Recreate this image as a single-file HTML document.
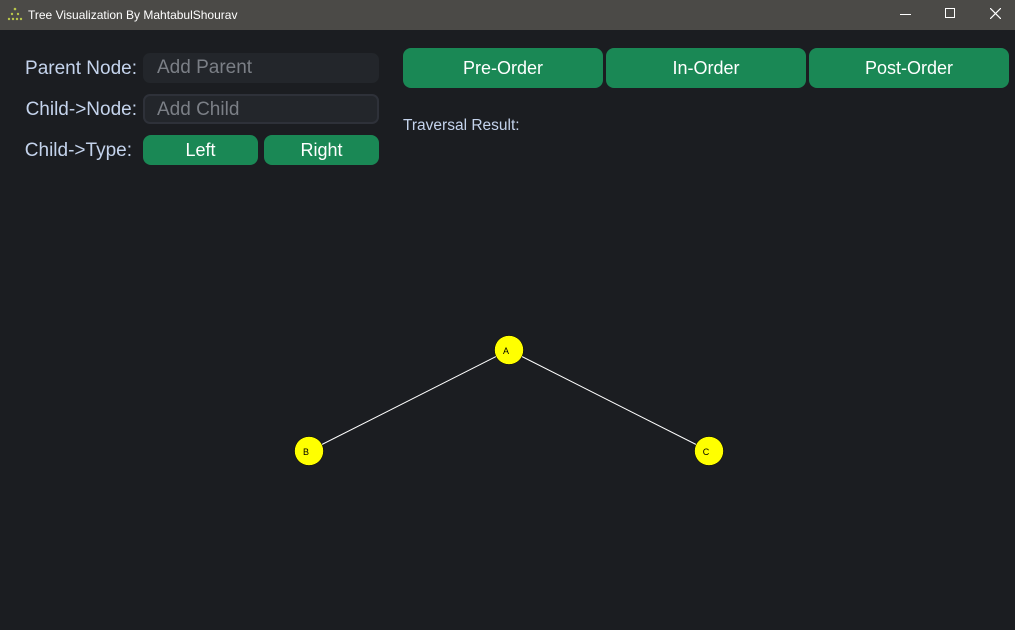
<!DOCTYPE html>
<html><head><meta charset="utf-8"><style>
*{margin:0;padding:0;box-sizing:border-box}
body{width:1015px;height:630px;background:#1b1d21;font-family:"Liberation Sans",sans-serif;position:relative;overflow:hidden}
.t{position:absolute;left:0;top:0;width:1015px;height:30px;background:#4b4a47;color:#fff;font-size:12px}
.a{position:absolute}
.lbl{position:absolute;color:#c4d3ec;font-size:19px;text-align:right;width:120px;white-space:nowrap}
.inp{position:absolute;left:143px;width:236px;height:30px;border-radius:7px;background:#23262b;color:#7b7f86;font-size:19px;padding-left:14px;line-height:30px}
.btn{position:absolute;background:#1a8855;color:#fff;border-radius:8px;text-align:center;font-size:18px}
</style></head><body>
<div class="t">
<svg class="a" style="left:7px;top:7px" width="16" height="14"><g fill="#b9c64a"><circle cx="8" cy="2" r="1.3"/><circle cx="5" cy="7" r="1.2"/><circle cx="11" cy="7" r="1.2"/><circle cx="2" cy="12" r="1.2"/><circle cx="6" cy="12" r="1.2"/><circle cx="10" cy="12" r="1.2"/><circle cx="14" cy="12" r="1.2"/></g></svg>
<div class="a" style="left:28px;top:8px">Tree Visualization By MahtabulShourav</div>
<div class="a" style="left:900px;top:14px;width:11px;height:1px;background:#fff"></div>
<div class="a" style="left:945px;top:8px;width:10px;height:10px;border:1px solid #fff"></div>
<svg class="a" style="left:990px;top:8px" width="11" height="11"><path d="M0 0L11 11M11 0L0 11" stroke="#fff" stroke-width="1.2"/></svg>
</div>
<div class="lbl" style="left:17px;top:58px">Parent Node:</div>
<div class="lbl" style="left:17px;top:99px">Child-&gt;Node:</div>
<div class="lbl" style="left:12px;top:140px">Child-&gt;Type:</div>
<div class="inp" style="top:53px">Add Parent</div>
<div class="inp" style="top:94px;border:2px solid #2e3139;padding-left:12px;line-height:27px">Add Child</div>
<div class="btn" style="left:143px;top:135px;width:115px;height:30px;line-height:31px">Left</div>
<div class="btn" style="left:264px;top:135px;width:115px;height:30px;line-height:31px">Right</div>
<div class="btn" style="left:403px;top:48px;width:200px;height:40px;line-height:41px">Pre-Order</div>
<div class="btn" style="left:606px;top:48px;width:200px;height:40px;line-height:41px">In-Order</div>
<div class="btn" style="left:809px;top:48px;width:200px;height:40px;line-height:41px">Post-Order</div>
<div class="a" style="left:403px;top:117px;color:#c4d3ec;font-size:15.5px">Traversal Result:</div>
<svg class="a" style="left:0;top:0" width="1015" height="630">
<line x1="509" y1="350" x2="309" y2="451" stroke="#fff" stroke-width="1"/>
<line x1="509" y1="350" x2="709" y2="451" stroke="#fff" stroke-width="1"/>
<g fill="#ffff00" stroke="#000" stroke-width="0.5"><circle cx="509" cy="350" r="14.5"/><circle cx="309" cy="451" r="14.5"/><circle cx="709" cy="451" r="14.5"/></g>
<g font-family="Liberation Sans" font-size="9" text-anchor="middle" fill="#000"><text x="506" y="354">A</text><text x="306" y="455">B</text><text x="706" y="455">C</text></g>
</svg>
</body></html>
